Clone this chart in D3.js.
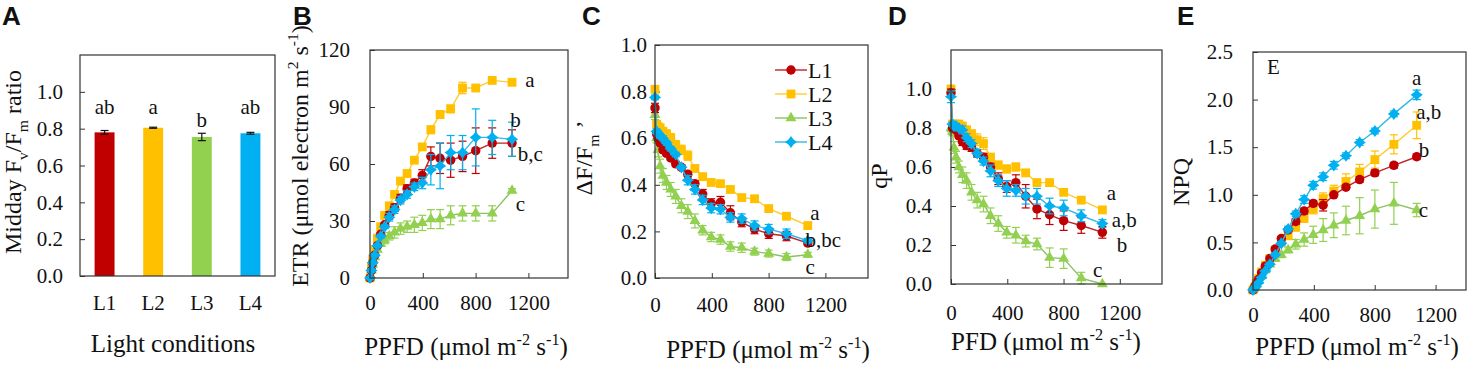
<!DOCTYPE html>
<html>
<head>
<meta charset="utf-8">
<script src="https://cdn.jsdelivr.net/npm/d3@7"></script>
<style>
  body { margin: 0; background: #fff; }
  text, tspan { font-family: 'Liberation Serif', 'Times New Roman', Times, 'DejaVu Serif', serif !important; fill: #111; }
  text.tag { font-family: 'Liberation Sans', Arial, sans-serif !important; font-weight: bold; font-size: 26px; }
</style>
</head>
<body>
<svg id="fig" width="1477" height="366" font-family="Liberation Serif"></svg>
<script>
// ---- data ----
const groups = ['L1', 'L2', 'L3', 'L4']
const fvfm = [0.78, 0.805, 0.755, 0.775]
const fvfmErr = [0.01, 0.003, 0.02, 0.005]
const fvfmLetters = ['ab', 'a', 'b', 'ab']
const fvfmLetterY = [0.88, 0.88, 0.81, 0.88]

const ppfd = [0, 11, 21, 36, 56, 81, 111, 146, 186, 231, 281, 336, 396, 461, 531, 611, 701, 801, 926, 1076]

// B: ETR
const etrL1 = [0, 4, 8, 12, 17, 23, 28, 33, 37, 42, 47, 50, 54, 64, 63, 62, 64, 67, 71, 71]
const etrL2 = [0, 6, 10, 15, 21, 27, 33, 38, 44, 51, 55, 62, 69, 78, 86, 89, 100, 100, 104, 103]
const etrL3 = [0, 4, 7, 11, 15, 18, 20, 22, 24, 26, 27, 28, 29, 31, 31, 33, 34, 34, 34, 46]
const etrL4 = [0, 4, 8, 12, 17, 22, 27, 32, 36, 41, 44, 48, 50, 57, 59, 66, 66, 74, 74, 73]
const etrL1Err = [0, 1, 1, 1, 1, 1, 1, 2, 2, 2, 2, 2, 3, 5, 8, 9, 8, 12, 8, 7]
const etrL2Err = [0, 0.5, 0.5, 0.5, 0.5, 1, 1, 1, 1, 1, 1, 1, 1, 2, 2, 2, 3, 1, 1, 1]
const etrL3Err = [0, 1, 1, 1, 1, 1, 2, 2, 3, 3, 3, 4, 4, 5, 5, 5, 4, 4, 4, 1]
const etrL4Err = [0, 1, 1, 1, 1, 1, 1, 2, 2, 2, 2, 2, 3, 8, 12, 9, 9, 15, 9, 9]

// C: deltaF/Fm'
const yieldL1 = [0.73, 0.62, 0.60, 0.58, 0.55, 0.535, 0.515, 0.49, 0.475, 0.445, 0.405, 0.36, 0.32, 0.325, 0.28, 0.24, 0.21, 0.19, 0.18, 0.15]
const yieldL2 = [0.81, 0.66, 0.65, 0.645, 0.63, 0.62, 0.60, 0.57, 0.55, 0.525, 0.47, 0.435, 0.41, 0.405, 0.38, 0.345, 0.34, 0.298, 0.265, 0.225]
const yieldL3 = [0.70, 0.60, 0.55, 0.48, 0.44, 0.41, 0.38, 0.35, 0.31, 0.285, 0.245, 0.205, 0.176, 0.165, 0.135, 0.13, 0.113, 0.105, 0.09, 0.10]
const yieldL4 = [0.775, 0.63, 0.62, 0.61, 0.60, 0.58, 0.555, 0.53, 0.475, 0.42, 0.38, 0.335, 0.30, 0.295, 0.26, 0.255, 0.225, 0.21, 0.19, 0.16]
const yieldL1Err = [0.02, 0.01, 0.01, 0.01, 0.01, 0.01, 0.01, 0.01, 0.01, 0.01, 0.01, 0.02, 0.02, 0.025, 0.03, 0.02, 0.02, 0.02, 0.02, 0.01]
const yieldL2Err = [0.01, 0.01, 0.01, 0.01, 0.01, 0.01, 0.02, 0.02, 0.02, 0.02, 0.01, 0.01, 0.01, 0.01, 0.01, 0.01, 0.01, 0.01, 0.01, 0.01]
const yieldL3Err = [0.02, 0.02, 0.03, 0.03, 0.03, 0.03, 0.03, 0.03, 0.03, 0.03, 0.03, 0.02, 0.02, 0.02, 0.02, 0.02, 0.015, 0.015, 0.015, 0.01]
const yieldL4Err = [0.01, 0.01, 0.01, 0.01, 0.01, 0.01, 0.01, 0.01, 0.01, 0.02, 0.02, 0.02, 0.02, 0.02, 0.02, 0.02, 0.02, 0.02, 0.02, 0.01]

// D: qP
const qpL1 = [0.98, 0.80, 0.80, 0.79, 0.76, 0.73, 0.71, 0.70, 0.67, 0.65, 0.60, 0.54, 0.50, 0.52, 0.45, 0.385, 0.355, 0.325, 0.30, 0.265]
const qpL2 = [1.00, 0.82, 0.82, 0.82, 0.82, 0.81, 0.79, 0.77, 0.74, 0.72, 0.65, 0.61, 0.59, 0.60, 0.57, 0.52, 0.52, 0.47, 0.43, 0.38]
const qpL3 = [0.80, 0.78, 0.70, 0.65, 0.60, 0.56, 0.53, 0.47, 0.43, 0.41, 0.35, 0.31, 0.265, 0.25, 0.22, 0.205, 0.135, 0.13, 0.03, 0.0]
const qpL4 = [0.96, 0.82, 0.81, 0.81, 0.80, 0.79, 0.75, 0.72, 0.67, 0.63, 0.58, 0.53, 0.49, 0.48, 0.45, 0.45, 0.40, 0.39, 0.35, 0.31]
const qpL1Err = [0.02, 0.01, 0.01, 0.01, 0.01, 0.02, 0.02, 0.02, 0.02, 0.02, 0.02, 0.03, 0.03, 0.04, 0.06, 0.05, 0.05, 0.05, 0.04, 0.03]
const qpL2Err = [0.01, 0.01, 0.01, 0.01, 0.01, 0.01, 0.02, 0.02, 0.03, 0.03, 0.02, 0.02, 0.02, 0.02, 0.01, 0.01, 0.01, 0.01, 0.01, 0.01]
const qpL3Err = [0.02, 0.02, 0.03, 0.03, 0.03, 0.04, 0.04, 0.04, 0.04, 0.04, 0.04, 0.04, 0.03, 0.04, 0.03, 0.03, 0.05, 0.05, 0.03, 0]
const qpL4Err = [0.03, 0.01, 0.01, 0.01, 0.01, 0.02, 0.02, 0.02, 0.02, 0.02, 0.03, 0.03, 0.04, 0.03, 0.04, 0.04, 0.04, 0.04, 0.03, 0.02]

// E: NPQ
const npqL1 = [0, 0.03, 0.06, 0.11, 0.18, 0.25, 0.33, 0.43, 0.54, 0.63, 0.72, 0.83, 0.91, 0.89, 1.00, 1.08, 1.16, 1.23, 1.31, 1.40]
const npqL2 = [0, 0.03, 0.07, 0.12, 0.19, 0.26, 0.33, 0.42, 0.50, 0.57, 0.66, 0.76, 0.85, 0.96, 1.04, 1.14, 1.24, 1.37, 1.53, 1.73]
const npqL3 = [0, 0.03, 0.06, 0.10, 0.15, 0.21, 0.27, 0.33, 0.37, 0.42, 0.48, 0.53, 0.58, 0.63, 0.68, 0.73, 0.78, 0.85, 0.91, 0.84]
const npqL4 = [0, 0.02, 0.04, 0.075, 0.13, 0.20, 0.27, 0.37, 0.49, 0.64, 0.80, 0.95, 1.10, 1.19, 1.31, 1.41, 1.55, 1.67, 1.85, 2.05]
const npqL1Err = [0, 0.01, 0.01, 0.01, 0.01, 0.02, 0.02, 0.02, 0.02, 0.02, 0.03, 0.03, 0.03, 0.06, 0.02, 0.02, 0.03, 0.03, 0.03, 0.03]
const npqL2Err = [0, 0.01, 0.01, 0.01, 0.01, 0.02, 0.02, 0.02, 0.02, 0.02, 0.04, 0.05, 0.05, 0.06, 0.06, 0.08, 0.08, 0.09, 0.10, 0.14]
const npqL3Err = [0, 0.01, 0.01, 0.01, 0.01, 0.02, 0.02, 0.03, 0.03, 0.03, 0.05, 0.07, 0.09, 0.12, 0.13, 0.15, 0.19, 0.20, 0.22, 0.07]
const npqL4Err = [0, 0.01, 0.01, 0.01, 0.01, 0.01, 0.02, 0.02, 0.02, 0.03, 0.03, 0.04, 0.04, 0.04, 0.04, 0.03, 0.03, 0.03, 0.03, 0.05]

// significance letters (text, ppfd, value)
const etrLetters = [['a', 1177, 104], ['b', 1063, 83], ['b,c', 1120, 65], ['c', 1105, 39]]
const yieldLetters = [['a', 1094, 0.279], ['b,bc', 1059, 0.163], ['c', 1059, 0.047]]
const qpLetters = [['a', 1108, 0.464], ['a,b', 1143, 0.327], ['b', 1179, 0.199], ['c', 1009, 0.071]]
const npqLetters = [['a', 1045, 2.22], ['a,b', 1073, 1.87], ['b', 1090, 1.47], ['c', 1090, 0.84]]

const xTicks = [0, 400, 800, 1200]
const colors = ['#c00000', '#ffc000', '#92d050', '#00b0f0']
const lineColors = ['#c0222a', '#ffcc33', '#8cc063', '#33b8e8']
const drawOrder = [1, 2, 0, 3]
const serif = "'Liberation Serif', 'Times New Roman', Times, serif"

const star4 = {
  draw (ctx, size) {
    let r = Math.sqrt(size) * 0.75
    let q = r * 0.42
    ctx.moveTo(0, -r); ctx.lineTo(q, -q); ctx.lineTo(r, 0); ctx.lineTo(q, q)
    ctx.lineTo(0, r); ctx.lineTo(-q, q); ctx.lineTo(-r, 0); ctx.lineTo(-q, -q)
    ctx.closePath()
  }
}
const symbols = [
  d3.symbol().type(d3.symbolCircle).size(70),
  d3.symbol().type(d3.symbolSquare).size(78),
  d3.symbol().type(d3.symbolTriangle).size(52),
  d3.symbol().type(star4).size(66)
]

const svg = d3.select('#fig')

// text with sub/superscripts: parts = [[text, 'sup'|'sub'|undefined], ...]
let richText = function (sel, parts, size) {
  let back = 0
  parts.forEach(p => {
    let shift = p[1] === 'sup' ? -0.4 : p[1] === 'sub' ? 0.3 : 0
    let t = sel.append('tspan').text(p[0])
    let dy = shift * size + back
    if (dy !== 0) t.attr('dy', dy)
    if (shift !== 0) t.attr('font-size', size * 0.65)
    back = -shift * size
  })
  return sel
}

let axisStyle = function (g, fs) {
  g.attr('font-family', serif)
  g.select('.domain').remove()
  g.selectAll('line').attr('stroke', '#333').attr('stroke-width', 1)
  g.selectAll('text').attr('font-size', fs).attr('fill', '#111')
}

// ---- panel A ----
let drawBars = function () {
  const box = {l: 80, t: 55, r: 275, b: 276}
  const w = box.r - box.l
  const h = box.b - box.t
  const x = d3.scaleBand().domain(groups).range([0, w]).paddingInner(0.59).paddingOuter(0.3)
  const y = d3.scaleLinear().domain([0, 1.2]).range([h, 0])
  const g = svg.append('g').attr('transform', `translate(${box.l},${box.t})`)

  g.selectAll('.bar')
    .data(groups)
    .enter()
    .append('rect')
    .attr('x', d => x(d))
    .attr('width', x.bandwidth())
    .attr('y', (d, i) => y(fvfm[i]))
    .attr('height', (d, i) => h - y(fvfm[i]))
    .attr('fill', (d, i) => colors[i])

  groups.forEach((d, i) => {
    let cx = x(d) + x.bandwidth() / 2
    g.append('line').attr('x1', cx).attr('x2', cx)
      .attr('y1', y(fvfm[i] - fvfmErr[i])).attr('y2', y(fvfm[i] + fvfmErr[i]))
      .attr('stroke', '#111').attr('stroke-width', 1.2)
    ;[fvfm[i] - fvfmErr[i], fvfm[i] + fvfmErr[i]].forEach(v => {
      g.append('line').attr('x1', cx - 4).attr('x2', cx + 4)
        .attr('y1', y(v)).attr('y2', y(v))
        .attr('stroke', '#111').attr('stroke-width', 1.2)
    })
    g.append('text').attr('x', cx).attr('y', y(fvfmLetterY[i]))
      .attr('text-anchor', 'middle').attr('font-size', 21).text(fvfmLetters[i])
  })

  g.append('g')
    .call(d3.axisLeft(y).tickValues([0, 0.2, 0.4, 0.6, 0.8, 1.0]).tickFormat(d3.format('.1f'))
      .tickSizeInner(-5).tickSizeOuter(0).tickPadding(17))
    .call(a => axisStyle(a, 21))
  g.append('g')
    .attr('transform', `translate(0,${h})`)
    .call(d3.axisBottom(x).tickSize(0).tickPadding(19))
    .call(a => axisStyle(a, 21))

  g.append('rect').attr('width', w).attr('height', h)
    .attr('fill', 'none').attr('stroke', '#333').attr('stroke-width', 1.2)

  svg.append('text').attr('x', 173).attr('y', 352).attr('text-anchor', 'middle')
    .attr('font-size', 25).text('Light conditions')
  let yl = svg.append('text').attr('text-anchor', 'middle').attr('font-size', 24)
    .attr('transform', 'translate(21,162) rotate(-90)')
  richText(yl, [['Midday F'], ['v', 'sub'], ['/F'], ['m', 'sub'], [' ratio']], 24)
  svg.append('text').attr('class', 'tag').attr('x', 2).attr('y', 25).text('A')
}

// ---- line panels ----
let drawCurves = function (cfg) {
  const box = cfg.box
  const w = box.r - box.l
  const h = box.b - box.t
  const x = d3.scaleLinear().domain([0, cfg.xMax]).range([0, w])
  const y = d3.scaleLinear().domain([0, cfg.yMax]).range([h, 0])
  const g = svg.append('g').attr('transform', `translate(${box.l},${box.t})`)

  g.append('g')
    .call(d3.axisLeft(y).tickValues(cfg.yTicks).tickFormat(cfg.yFmt)
      .tickSizeInner(-5).tickSizeOuter(0).tickPadding(cfg.yPad))
    .call(a => axisStyle(a, 21))
  g.append('g')
    .attr('transform', `translate(0,${h})`)
    .call(d3.axisBottom(x).tickValues(xTicks).tickFormat(d3.format('d'))
      .tickSizeInner(-5).tickSizeOuter(0).tickPadding(cfg.xPad))
    .call(a => axisStyle(a, 21))

  let line = d3.line().x(d => x(d[0])).y(d => y(d[1]))
  drawOrder.forEach(k => {
    let vals = cfg.series[k]
    let errs = cfg.errors[k]
    let pts = ppfd.map((p, i) => [p, vals[i], errs[i]])
    let sg = g.append('g')
    sg.append('path').datum(pts).attr('d', line)
      .attr('fill', 'none').attr('stroke', lineColors[k]).attr('stroke-width', 1.4)
    pts.filter(d => d[2] > 0).forEach(d => {
      let cx = x(d[0])
      sg.append('line').attr('x1', cx).attr('x2', cx)
        .attr('y1', y(Math.max(0, d[1] - d[2]))).attr('y2', y(d[1] + d[2]))
        .attr('stroke', colors[k]).attr('stroke-width', 1.2)
      ;[Math.max(0, d[1] - d[2]), d[1] + d[2]].forEach(v => {
        sg.append('line').attr('x1', cx - 4).attr('x2', cx + 4)
          .attr('y1', y(v)).attr('y2', y(v))
          .attr('stroke', colors[k]).attr('stroke-width', 1.2)
      })
    })
    sg.selectAll('.pt')
      .data(pts)
      .enter()
      .append('path')
      .attr('d', symbols[k])
      .attr('transform', d => `translate(${x(d[0])},${y(d[1])})`)
      .attr('fill', colors[k])
  })

  cfg.letters.forEach(l => {
    g.append('text').attr('x', x(l[1])).attr('y', y(l[2]))
      .attr('dy', '0.32em').attr('font-size', 21).text(l[0])
  })

  g.append('rect').attr('width', w).attr('height', h)
    .attr('fill', 'none').attr('stroke', '#333').attr('stroke-width', 1.2)

  let xl = svg.append('text').attr('x', cfg.xTitle[0]).attr('y', cfg.xTitle[1])
    .attr('text-anchor', 'middle').attr('font-size', 25)
  richText(xl, cfg.xLabel, 25)
  let yl = svg.append('text').attr('text-anchor', 'middle').attr('font-size', 24)
    .attr('transform', `translate(${cfg.yTitle[0]},${cfg.yTitle[1]}) rotate(-90)`)
  richText(yl, cfg.yLabel, 24)
  svg.append('text').attr('class', 'tag').attr('x', cfg.tag[1]).attr('y', 25).text(cfg.tag[0])
  return {g, x, y, w, h}
}

const ppfdLabel = [['PPFD (\u03bcmol m'], ['-2', 'sup'], [' s'], ['-1', 'sup'], [')']]

drawBars()

drawCurves({
  box: {l: 370, t: 50, r: 568, b: 278}, xMax: 1500, yMax: 120,
  yTicks: [0, 30, 60, 90, 120], yFmt: d3.format('d'), yPad: 20, xPad: 17,
  series: [etrL1, etrL2, etrL3, etrL4], errors: [etrL1Err, etrL2Err, etrL3Err, etrL4Err],
  letters: etrLetters, xTitle: [466, 355], yTitle: [308, 156], tag: ['B', 293],
  xLabel: ppfdLabel,
  yLabel: [['ETR (\u03bcmol electron m'], ['2', 'sup'], [' s'], ['-1', 'sup'], [')']]
})

let panelC = drawCurves({
  box: {l: 655, t: 45, r: 868, b: 278}, xMax: 1500, yMax: 1.0,
  yTicks: [0, 0.2, 0.4, 0.6, 0.8, 1.0], yFmt: d3.format('.1f'), yPad: 8, xPad: 19,
  series: [yieldL1, yieldL2, yieldL3, yieldL4], errors: [yieldL1Err, yieldL2Err, yieldL3Err, yieldL4Err],
  letters: yieldLetters, xTitle: [768, 358], yTitle: [592, 158], tag: ['C', 582],
  xLabel: ppfdLabel,
  yLabel: [['\u0394F/F'], ['m', 'sub'], [' \u2019']]
})

// legend in panel C
groups.forEach((name, k) => {
  let ly = 25 + k * 24
  let lg = panelC.g.append('g').attr('transform', `translate(120,${ly})`)
  lg.append('line').attr('x1', 0).attr('x2', 32).attr('stroke', lineColors[k]).attr('stroke-width', 1.4)
  lg.append('path').attr('d', symbols[k]).attr('transform', 'translate(16,0)').attr('fill', colors[k])
  lg.append('text').attr('x', 33).attr('dy', '0.35em').attr('font-size', 22).text(name)
})

drawCurves({
  box: {l: 951, t: 50, r: 1162, b: 284}, xMax: 1500, yMax: 1.2,
  yTicks: [0, 0.2, 0.4, 0.6, 0.8, 1.0], yFmt: d3.format('.1f'), yPad: 19, xPad: 21,
  series: [qpL1, qpL2, qpL3, qpL4], errors: [qpL1Err, qpL2Err, qpL3Err, qpL4Err],
  letters: qpLetters, xTitle: [1046, 350], yTitle: [887, 176], tag: ['D', 888],
  xLabel: [['PFD (\u03bcmol m'], ['-2', 'sup'], [' s'], ['-1', 'sup'], [')']],
  yLabel: [['qP']]
})

let panelE = drawCurves({
  box: {l: 1253, t: 52, r: 1466, b: 290}, xMax: 1400, yMax: 2.5,
  yTicks: [0, 0.5, 1.0, 1.5, 2.0, 2.5], yFmt: d3.format('.1f'), yPad: 20, xPad: 17,
  series: [npqL1, npqL2, npqL3, npqL4], errors: [npqL1Err, npqL2Err, npqL3Err, npqL4Err],
  letters: npqLetters, xTitle: [1357, 355], yTitle: [1189, 182], tag: ['E', 1177],
  xLabel: ppfdLabel,
  yLabel: [['NPQ']]
})
panelE.g.append('text').attr('x', panelE.x(92)).attr('y', panelE.y(2.35))
  .attr('dy', '0.35em').attr('font-size', 21).text('E')
</script>
</body>
</html>
